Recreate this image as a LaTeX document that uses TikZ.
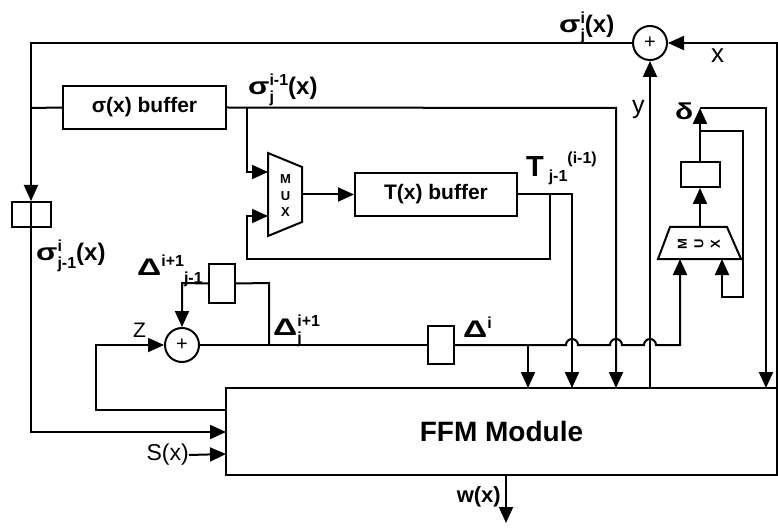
\documentclass[tikz,border=0pt]{standalone}
\usepackage{fontspec}
\usepackage{graphicx}
\setmainfont{Liberation Sans}
\usetikzlibrary{arrows.meta}
\newcommand\gS{\scalebox{1.3}[1]{σ}}
\newcommand\gD{\scalebox{1.4}[1]{Δ}}
\newcommand\gd{\scalebox{1.3}[1]{δ}}
\newlength\stkw
\newsavebox\stkA
\newsavebox\stkB
% stacked subscript (#1) and superscript (#2)
\newcommand\stk[2]{\sbox\stkA{\fontsize{16}{16}\selectfont #1}\sbox\stkB{\fontsize{16}{16}\selectfont #2}%
  \ifdim\wd\stkA>\wd\stkB \stkw=\wd\stkA \else \stkw=\wd\stkB \fi
  \makebox[\stkw][l]{\rlap{\raisebox{-8pt}{\usebox\stkA}}\raisebox{9pt}{\usebox\stkB}}}
\newcommand\lsub[2][-8pt]{\raisebox{#1}{\fontsize{16}{16}\selectfont #2}}
\newcommand\lsup[2][9pt]{\raisebox{#1}{\fontsize{16}{16}\selectfont #2}}
\begin{document}
\begin{tikzpicture}[x=1pt,y=-1pt,
  ln/.style={line width=2pt},
  tip/.style={-{Triangle[length=16pt,width=14pt]}},
  blk/.style={draw,line width=2pt,inner sep=0pt},
  addr/.style={draw,circle,line width=2pt,minimum size=34pt,inner sep=0pt,font=\fontsize{20}{20}\selectfont},
  boldlab/.style={inner sep=0pt,anchor=base west,font=\fontsize{24}{26}\selectfont\bfseries},
  plainlab/.style={inner sep=0pt,font=\fontsize{23}{25}\selectfont},
  muxtxt/.style={inner sep=0pt,align=center,font=\fontsize{13}{16.5}\selectfont\bfseries}
]
\fill[white] (0,0) rectangle (778,529);
\useasboundingbox (0,0) rectangle (778,529);

% blocks
\node[blk,minimum width=163pt,minimum height=43pt,font=\fontsize{21}{23}\selectfont\bfseries] (sbuf) at (144.5,107.5) {σ(x) buffer};
\node[blk,minimum width=162pt,minimum height=43pt,font=\fontsize{21}{23}\selectfont\bfseries] (tbuf) at (436,194.5) {T(x) buffer};
\node[blk,minimum width=551pt,minimum height=87pt,font=\fontsize{28}{30}\selectfont\bfseries] (ffm) at (501.5,431.5) {FFM Module};
\node[blk,minimum width=39pt,minimum height=25pt] (regL) at (31,214.5) {};
\node[blk,minimum width=26pt,minimum height=39pt] (regD1) at (222,283.5) {};
\node[blk,minimum width=26pt,minimum height=38pt] (regD2) at (441,345) {};
\node[blk,minimum width=39pt,minimum height=25pt] (regR) at (700,174.5) {};
\node[addr] (add1) at (650,43) {+};
\node[addr] (add2) at (182,345) {+};

% multiplexers
\draw[ln] (268,153) -- (302,167) -- (302,222) -- (268,236) -- cycle;
\node[muxtxt] (mux1) at (285.5,196) {M\\U\\X};
\draw[ln] (658,259) -- (741,259) -- (727,227) -- (670,227) -- cycle;
\node[muxtxt,rotate=90] (mux2) at (699,244) {M\\U\\X};
\coordinate (m1a) at (268,172);
\coordinate (m1b) at (268,216);
\coordinate (m1o) at (302,194.5);
\coordinate (m2a) at (680,259);
\coordinate (m2b) at (722,259);
\coordinate (m2o) at (700,227);

% ports of the FFM module
\coordinate (fL1) at (226,432);
\coordinate (fL2) at (226,454);
\coordinate (fL3) at (226,410);
\coordinate (fT1) at (528,388);
\coordinate (fT2) at (572,388);
\coordinate (fT3) at (616,388);
\coordinate (fT4) at (650,388);
\coordinate (fT5) at (766,388);
\coordinate (fT6) at (777,388);
\coordinate (wout) at (506,523);
\coordinate (wsrc) at (506,475);
\coordinate (dpt) at (700,108);

% labels
\node[boldlab] (l1) at (559,33) {\gS\stk{j}{i}(x)};
\node[boldlab] (l2) at (248,95) {\gS\stk{j}{i-1}(x)};
\node[boldlab] (l3) at (36,260) {\gS\stk{j-1}{i}(x)};
\node[boldlab] (l4) at (137,275) {\gD\lsup{i+1}\lsub{j-1}};
\node[boldlab] (l5) at (273,335) {\gD\stk{j}{i+1}};
\node[boldlab] (l6) at (463,337) {\gD\lsup{i}};
\node[boldlab,font=\fontsize{29}{30}\selectfont\bfseries] (l7) at (526,177) {T\,\lsub[-5pt]{j-1}\lsup[13pt]{(i-1)}};
\node[boldlab,font=\fontsize{23}{25}\selectfont\bfseries] (l8) at (675,120) {\gd};
\node[plainlab,anchor=base west,font=\fontsize{25}{27}\selectfont] (ly) at (632,114) {y};
\node[plainlab,anchor=base west,font=\fontsize{26}{28}\selectfont] (lx) at (711,63) {x};
\node[plainlab,anchor=base west,font=\fontsize{21}{23}\selectfont] (lz) at (133,337) {Z};
\node[plainlab,anchor=east,font=\fontsize{23}{25}\selectfont] (sx) at (189,455) {S(x)};
\node[inner sep=0pt,anchor=east,font=\fontsize{22}{24}\selectfont\bfseries] (lw) at (501,497) {w(x)};

% connectors
\draw[ln] (add1.west) -- (31,43) -- (31,108);
\draw[ln,tip] (31,108) -- (regL.north);
\draw[ln] (regL.north) -- (regL.south);
\draw[ln] (31,108) -- (sbuf.west);
\draw[ln,tip] (regL.south) -- (31,432) -- (fL1);
\draw[ln,tip] (sx.east) -- (fL2);
\draw[ln,tip] (fL3) -- (96,410) -- (96,345) -- (add2.west);
\draw[ln,tip] (sbuf.east) -- (616,108) -- (fT3);
\draw[ln,tip] (247,108) -- (247,172) -- (m1a);
\draw[ln,tip] (m1o) -- (tbuf.west);
\draw[ln,tip] (tbuf.east) -- (572,194.5) -- (fT2);
\draw[ln,tip] (550,194.5) -- (550,259) -- (247,259) -- (247,216) -- (m1b);
\draw[ln] (add2.east) -- (regD2.west);
\draw[ln] (269,345) -- (269,283) -- (regD1.east);
\draw[ln,tip] (regD1.west) -- (182,283) -- (add2.north);
\draw[ln,tip] (regD2.east) -- (566,345) arc[start angle=180,end angle=360,radius=6]
   -- (610,345) arc[start angle=180,end angle=360,radius=6]
   -- (644,345) arc[start angle=180,end angle=360,radius=6]
   -- (680,345) -- (m2a);
\draw[ln,tip] (528,345) -- (fT1);
\draw[ln,tip] (fT4) -- (add1.south);
\draw[ln,tip] (fT6) -- (777,43) -- (add1.east);
\draw[ln,tip] (m2o) -- (regR.south);
\draw[ln,tip] (regR.north) -- (dpt);
\draw[ln,tip] (dpt) -- (766,108) -- (fT5);
\draw[ln,tip] (700,131) -- (743,131) -- (743,297) -- (722,297) -- (m2b);
\draw[ln,tip] (wsrc) -- (wout);
\end{tikzpicture}
\end{document}
